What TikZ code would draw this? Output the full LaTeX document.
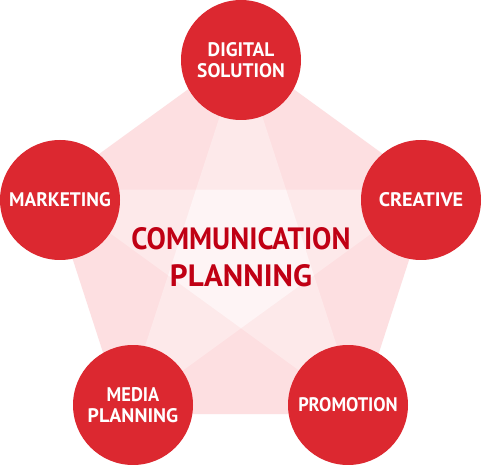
\documentclass[tikz,border=0pt]{standalone}
\usepackage{fontspec}
\setmainfont{PT Sans}
\usepackage{graphicx}
\definecolor{outerpink}{RGB}{253,223,225}
\definecolor{starpink}{RGB}{253,233,234}
\definecolor{centerpink}{RGB}{254,244,245}
\definecolor{circred}{RGB}{220,40,48}
\definecolor{titlered}{RGB}{192,0,20}
\newcommand{\fitw}[3]{\resizebox{#1pt}{#2pt}{#3}}
\tikzset{
  circ/.style={circle, fill=circred, minimum size=120pt, inner sep=0pt,
    text=white, align=center, font=\bfseries\fontsize{14}{21}\selectfont},
  title/.style={text=titlered, align=center, inner sep=0pt,
    font=\bfseries\fontsize{22}{37}\selectfont}
}
\begin{document}
\begin{tikzpicture}[x=1pt,y=-1pt]
  \useasboundingbox (0,0) rectangle (482,465);
  \fill[white] (0,0) rectangle (482,465);
  % pentagon vertices
  \coordinate (A) at (241,50.9);
  \coordinate (B) at (431.9,189.6);
  \coordinate (C) at (359,414);
  \coordinate (D) at (123,414);
  \coordinate (E) at (50.1,189.6);
  \coordinate (P1) at (intersection of A--C and B--E);
  \coordinate (P2) at (intersection of A--C and B--D);
  \coordinate (P3) at (intersection of B--D and C--E);
  \coordinate (P4) at (intersection of C--E and A--D);
  \coordinate (P5) at (intersection of A--D and B--E);
  \fill[outerpink] (A) -- (B) -- (C) -- (D) -- (E) -- cycle;
  \fill[starpink] (A) -- (C) -- (E) -- (B) -- (D) -- cycle;
  \fill[centerpink] (P1) -- (P2) -- (P3) -- (P4) -- (P5) -- cycle;
  % circles
  \node[circ] (ds) at (241,60) {\fitw{66.5}{14}{DIGITAL}\\\fitw{87.5}{14}{SOLUTION}};
  \node[circ] (mk) at (60,200) {\fitw{101.5}{14}{MARKETING}};
  \node[circ] (cr) at (421,200) {\fitw{84.5}{14}{CREATIVE}};
  \node[circ] (mp) at (133,405) {\fitw{52.5}{14}{MEDIA}\\\fitw{90.5}{14}{PLANNING}};
  \node[circ] (pr) at (348,405) {\fitw{99.5}{14}{PROMOTION}};
  % title
  \node[title] (cp) at (241,257.5) {\fitw{219}{22}{COMMUNICATION}\\\fitw{142}{22}{PLANNING}};
\end{tikzpicture}
\end{document}
